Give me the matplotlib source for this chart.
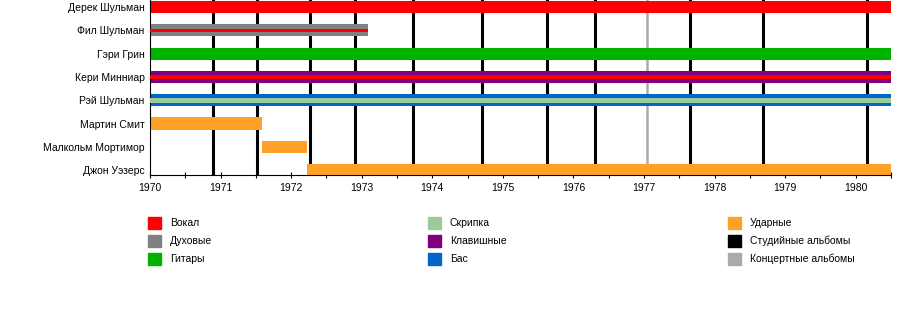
import matplotlib
matplotlib.use("Agg")
import matplotlib.pyplot as plt
from matplotlib.patches import Rectangle

plt.rcParams["font.family"] = ["Liberation Sans", "DejaVu Sans"]

# ── data ──────────────────────────────────────────────────────────────────────
members = ["Дерек Шульман", "Фил Шульман", "Гэри Грин", "Кери Минниар",
           "Рэй Шульман", "Мартин Смит", "Малкольм Мортимор", "Джон Уэзерс"]
starts = [1970.0, 1970.0, 1970.0, 1970.0, 1970.0, 1970.0, 1971.59, 1972.22]
ends = [1980.5, 1973.09, 1980.5, 1980.5, 1980.5, 1971.59, 1972.22, 1980.5]
main_role = ["vocals", "winds", "guitar", "keys", "bass", "drums", "drums", "drums"]
second_role = [None, "vocals", None, "vocals", "violin", None, None, None]

studio_albums = [1970.89, 1971.52, 1972.27, 1972.91, 1973.73, 1974.71,
                 1975.63, 1976.30, 1977.65, 1978.68, 1980.16]
live_albums = [1977.04]

years = list(range(1970, 1981))

roles = ["vocals", "winds", "guitar", "violin", "keys", "bass", "drums", "studio", "live"]
role_labels = ["Вокал", "Духовые", "Гитары", "Скрипка", "Клавишные", "Бас",
               "Ударные", "Студийные альбомы", "Концертные альбомы"]
ROLE_COLORS = {
    "vocals": "#ff0000",
    "winds":  "#808080",
    "guitar": "#00b300",
    "violin": "#99cc99",
    "keys":   "#800080",
    "bass":   "#0066cc",
    "drums":  "#ffa126",
    "studio": "#000000",
    "live":   "#aaaaaa",
}

# ── figure ────────────────────────────────────────────────────────────────────
fig = plt.figure(figsize=(9, 3.25), dpi=100)
ax = fig.add_axes([150 / 900, 1 - 175 / 325, 741 / 900, 175 / 325])

for x in studio_albums:
    ax.axvline(x, color=ROLE_COLORS["studio"], lw=2.2, zorder=1)
for x in live_albums:
    ax.axvline(x, color=ROLE_COLORS["live"], lw=1.8, zorder=1)

for i, name in enumerate(members):
    ax.barh(i, ends[i] - starts[i], left=starts[i], height=0.52,
            color=ROLE_COLORS[main_role[i]], zorder=2)
    if second_role[i]:
        h = 0.15 if main_role[i] == "winds" else 0.2
        ax.barh(i, ends[i] - starts[i], left=starts[i], height=h,
                color=ROLE_COLORS[second_role[i]], zorder=3)

ax.set_xlim(1970, 1980.5)
ax.set_ylim(7.21, -0.3)
ax.set_yticks(range(len(members)))
ax.set_yticklabels(members, fontsize=7.5)
ax.tick_params(axis="y", length=0, pad=4)
ax.set_xticks(years)
ax.set_xticklabels([str(y) for y in years], fontsize=7.5)
ax.set_xticks([y + 0.5 for y in years], minor=True)
ax.tick_params(axis="x", which="both", direction="inout", length=4, width=0.8, pad=4)
for s in ("top", "right"):
    ax.spines[s].set_visible(False)
ax.spines["left"].set_linewidth(0.8)
ax.spines["bottom"].set_linewidth(0.8)

# ── legend: three columns ────────────────────────────────────────────────────
col_x = [148, 428, 728]
row_y = [223, 241, 259]
for k, (role, label) in enumerate(zip(roles, role_labels)):
    cx = col_x[k // 3]
    cy = row_y[k % 3]
    fig.patches.append(Rectangle((cx / 900, 1 - (cy + 6) / 325), 13 / 900, 12 / 325,
                                 transform=fig.transFigure, color=ROLE_COLORS[role]))
    fig.text((cx + 22) / 900, 1 - cy / 325, label, fontsize=7.5, va="center", ha="left")

fig.savefig("out.png", dpi=100)
